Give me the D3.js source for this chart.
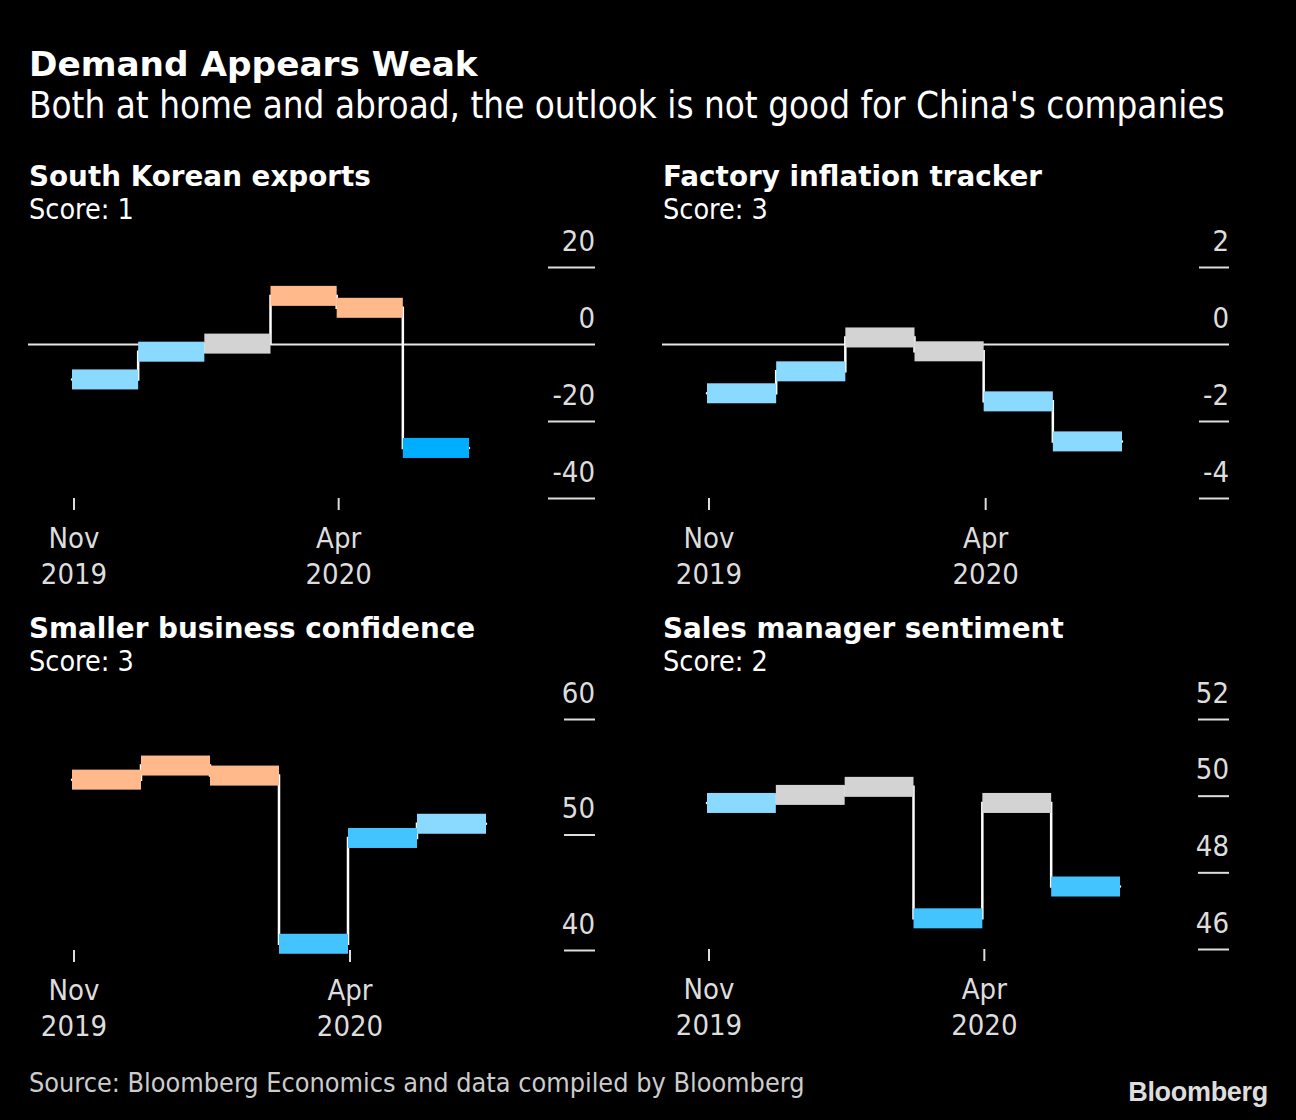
<!DOCTYPE html>
<html><head><meta charset="utf-8">
<script src="https://cdn.jsdelivr.net/npm/d3@7"></script>
<style>
body{margin:0;background:#000;}
svg{display:block;}
.reg{font-family:"DejaVu Sans Condensed","DejaVu Sans",sans-serif;font-stretch:condensed;}
.bold{font-family:"DejaVu Sans",sans-serif;font-weight:bold;}
</style></head><body>
<svg id="chart" width="1296" height="1120"></svg>
<script>
// ---- data ----
const periods = ["Nov 2019","Dec 2019","Jan–Feb 2020","Mar 2020","Apr 2020","May 2020"];
const xTickPeriods = ["Nov 2019","Apr 2020"];
const xTickLabels = [["Nov","2019"],["Apr","2020"]];

const panelTitles = ["South Korean exports","Factory inflation tracker","Smaller business confidence","Sales manager sentiment"];
const panelScores = [1,3,3,2];

const skExports        = [-9.2, -2.0, 0.1, 12.5, 9.4, -27.0];
const factoryInflation = [-1.28, -0.71, 0.17, -0.19, -1.49, -2.53];
const smallBizConf     = [54.75, 55.97, 55.1, 40.54, 49.7, 50.93];
const salesMgrSent     = [49.81, 50.02, 50.23, 46.8, 49.81, 47.63];

const skSignals      = ["weak","weak","neutral","strong","strong","weakest"];
const factorySignals = ["weak","weak","neutral","neutral","weak","weak"];
const smallBizSignals= ["strong","strong","strong","weaker","weaker","weak"];
const salesSignals   = ["weak","neutral","neutral","weaker","neutral","weaker"];

const yTicksSk      = [20,0,-20,-40];
const yTicksFactory = [2,0,-2,-4];
const yTicksSmallBiz= [60,50,40];
const yTicksSales   = [52,50,48,46];

const signalColors = {strong:"#FFB98A", neutral:"#D3D3D3", weak:"#8AD9FF", weaker:"#44C4FF", weakest:"#00AEFF"};

// ---- layout ----
const panels = [
  {title:panelTitles[0], score:panelScores[0], values:skExports, signals:skSignals, ticks:yTicksSk,
   x0:28, right:595, top:267, bottom:498, plotL:72, plotR:469, tickLen:47, head:186},
  {title:panelTitles[1], score:panelScores[1], values:factoryInflation, signals:factorySignals, ticks:yTicksFactory,
   x0:662, right:1229, top:267, bottom:498, plotL:707, plotR:1122, tickLen:30, head:186},
  {title:panelTitles[2], score:panelScores[2], values:smallBizConf, signals:smallBizSignals, ticks:yTicksSmallBiz,
   x0:28, right:595, top:719, bottom:950, plotL:72, plotR:486, tickLen:31, head:638},
  {title:panelTitles[3], score:panelScores[3], values:salesMgrSent, signals:salesSignals, ticks:yTicksSales,
   x0:662, right:1229, top:719, bottom:949, plotL:707, plotR:1120, tickLen:31, head:638}
];

const svg = d3.select("#chart");
svg.append("rect").attr("width",1296).attr("height",1120).attr("fill","#000");

svg.append("text").attr("class","bold").attr("x",29).attr("y",76)
  .attr("font-size",34.3).attr("fill","#fff").text("Demand Appears Weak");
svg.append("text").attr("class","reg").attr("x",29).attr("y",118)
  .attr("font-size",36.5).attr("fill","#fff")
  .text("Both at home and abroad, the outlook is not good for China's companies");

panels.forEach(p => {
  const g = svg.append("g");
  g.append("text").attr("class","bold").attr("x",p.x0+1).attr("y",p.head)
    .attr("font-size",27.8).attr("fill","#fff").text(p.title);
  g.append("text").attr("class","reg").attr("x",p.x0+1).attr("y",p.head+33)
    .attr("font-size",28.5).attr("fill","#fff").text("Score: " + p.score);

  const x = d3.scaleBand().domain(periods).range([p.plotL, p.plotR]).padding(0);
  const ext = d3.extent(p.ticks);
  const y = d3.scaleLinear().domain(ext).range([p.bottom, p.top]);

  // y axis (right side), short tick lines, labels above
  const yAxis = d3.axisRight(y).tickValues(p.ticks).tickSize(0).tickPadding(0)
    .tickFormat(d => d < 0 ? "-" + Math.abs(d) : String(d));
  const ya = g.append("g").attr("transform",`translate(${p.right},0)`).call(yAxis);
  ya.select(".domain").remove();
  ya.selectAll(".tick").each(function(d){
    const t = d3.select(this);
    t.select("text").attr("class","reg").attr("x",0).attr("dy",null).attr("y",-17)
      .attr("text-anchor","end").attr("font-size",29).attr("fill","#ddd")
      .attr("font-family",null);
    if (d === 0) {
      t.append("line").attr("x1",p.x0 - p.right).attr("x2",0).attr("y1",0).attr("y2",0)
        .attr("stroke","#e6e6e6").attr("stroke-width",2);
    } else {
      t.append("line").attr("x1",-p.tickLen).attr("x2",0).attr("y1",0).attr("y2",0)
        .attr("stroke","#ddd").attr("stroke-width",2);
    }
  });

  // x axis ticks
  const xPos = d => x(d) + 2;
  const xa = g.append("g");
  xa.selectAll("line").data(xTickPeriods).join("line")
    .attr("x1",xPos).attr("x2",xPos).attr("y1",p.bottom).attr("y2",p.bottom+12)
    .attr("stroke","#ddd").attr("stroke-width",2);
  xTickPeriods.forEach((d,i) => {
    xTickLabels[i].forEach((s,j) => {
      xa.append("text").attr("class","reg").attr("x",xPos(d)).attr("y",p.bottom+50+36*j)
        .attr("text-anchor","middle").attr("font-size",29).attr("fill","#ddd").text(s);
    });
  });

  // step line
  const pts = periods.map((d,i) => [x(d), y(p.values[i])]);
  pts.push([x(periods[periods.length-1]) + x.bandwidth(), y(p.values[p.values.length-1])]);
  g.append("path").attr("d", d3.line().curve(d3.curveStepAfter)(pts))
    .attr("fill","none").attr("stroke","#fff").attr("stroke-width",2.5).attr("stroke-linecap","round");

  // bars
  g.selectAll("rect.bar").data(p.values).join("rect").attr("class","bar")
    .attr("x",(d,i) => x(periods[i])).attr("width",x.bandwidth())
    .attr("y",d => y(d) - 10).attr("height",20)
    .attr("fill",(d,i) => signalColors[p.signals[i]]);
});

svg.append("text").attr("class","reg").attr("x",29).attr("y",1092)
  .attr("font-size",26.8).attr("fill","#ccc")
  .text("Source: Bloomberg Economics and data compiled by Bloomberg");
svg.append("text").attr("x",1268).attr("y",1101).attr("text-anchor","end")
  .attr("font-family","'Liberation Sans',Arial,sans-serif").attr("font-weight","bold")
  .attr("font-size",27).attr("letter-spacing",-0.3).attr("fill","#ddd").text("Bloomberg");
</script>
</body></html>
